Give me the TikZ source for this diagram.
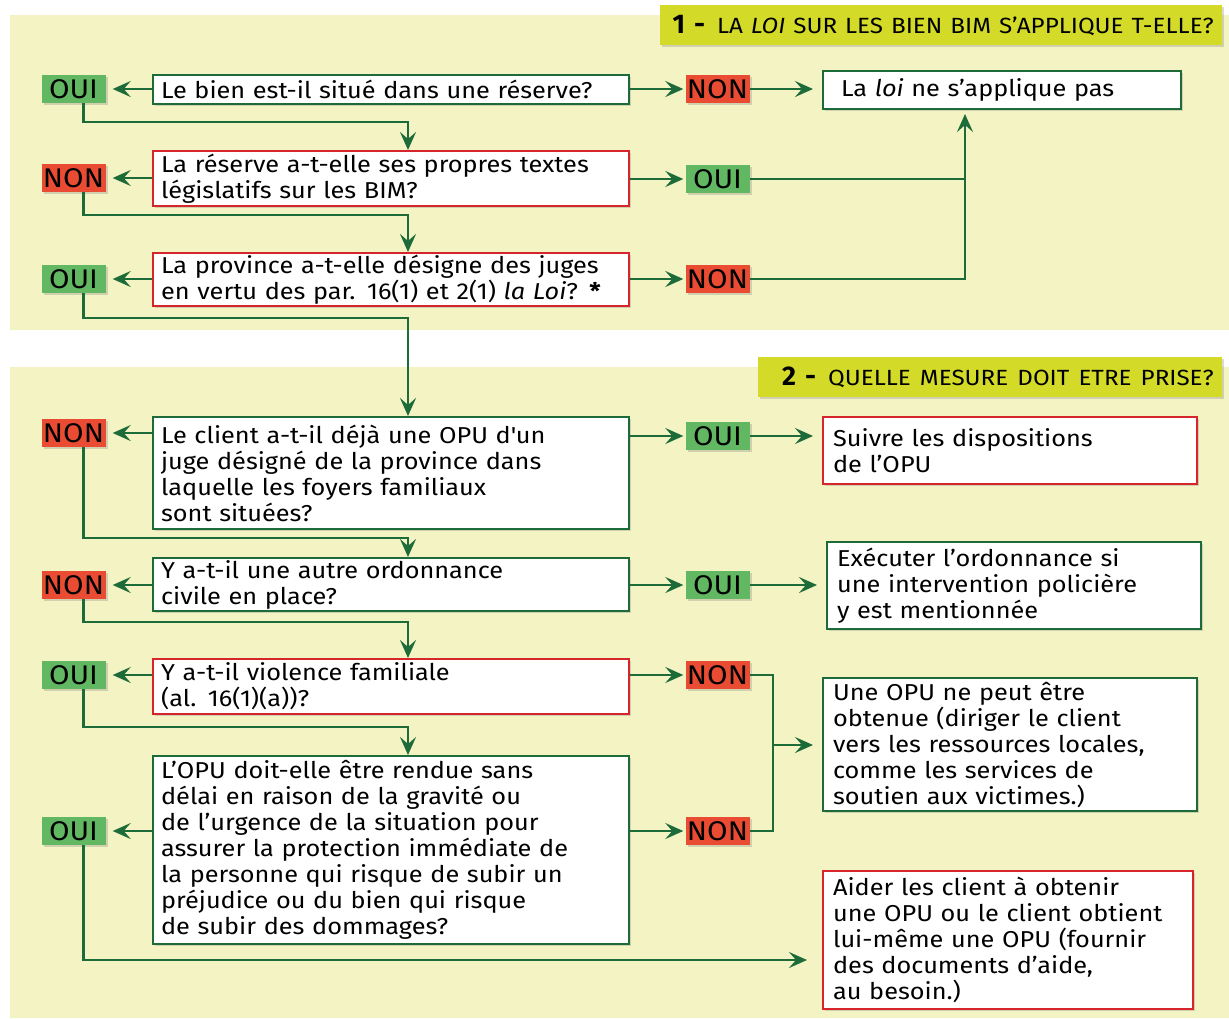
\documentclass[tikz,border=0pt]{standalone}
\usepackage{fontspec}
\setmainfont{Fira Sans}
\newfontfamily\qfam[FakeStretch=1.1]{Fira Sans}
\newfontfamily\tfam[FakeStretch=1.1]{Fira Sans}
\usetikzlibrary{arrows.meta,shadows,calc}
\definecolor{panel}{HTML}{F3F3C3}
\definecolor{titlebg}{HTML}{D3DB28}
\definecolor{gline}{HTML}{1D6B38}
\definecolor{rline}{HTML}{D7262B}
\definecolor{ouifill}{HTML}{62B862}
\definecolor{nonfill}{HTML}{E94B33}
\newcommand\qf{\qfam\fontsize{23}{26}\selectfont}
\newcommand\lf{\qfam\fontsize{27}{30}\selectfont}
\newcommand\tf{\tfam\fontsize{22}{26}\selectfont\spaceskip=7.5pt plus 2pt}
\begin{document}
\begin{tikzpicture}[x=1pt,y=-1pt,
  shad/.style={drop shadow={shadow xshift=2pt,shadow yshift=-2pt,opacity=0.3}},
  box/.style={fill=white,line width=2.2pt,align=left,inner xsep=8pt,inner ysep=1pt,
    anchor=north west,font=\qf,shad},
  qbox/.style={box,text width=460pt},
  lab/.style={minimum width=64pt,minimum height=28pt,inner sep=0pt,font=\lf,shad},
  oui/.style={lab,fill=ouifill},
  non/.style={lab,fill=nonfill},
  conn/.style={draw=gline,line width=2.2pt},
  arr/.style={conn,-{Stealth[length=18pt,width=16pt,inset=7pt]}},
  titlebar/.style={fill=titlebg,anchor=north east,minimum height=40pt,inner xsep=8pt,
    inner ysep=0pt,align=right,shad}
]
\useasboundingbox (0,0) rectangle (1229,1018);
% panels
\fill[panel] (10,15) rectangle (1229,330);
\fill[panel] (10,367) rectangle (1229,1018);
% titles
\node[titlebar,text width=546pt] (t1) at (1222,5)
  {{\fontsize{27}{30}\selectfont\bfseries 1\hspace{9pt}-}\hspace{12pt}{\tf LA \textit{LOI} SUR LES BIEN BIM S’APPLIQUE T-ELLE?}};
\node[titlebar,text width=448pt] (t2) at (1222,357)
  {{\fontsize{27}{30}\selectfont\bfseries 2\hspace{9pt}-}\hspace{12pt}{\tf QUELLE MESURE DOIT ETRE PRISE?}};

% questions
\node[qbox,draw=gline,minimum height=29pt] (q1) at (152,74) {Le bien est-il situé dans une réserve?};
\node[qbox,draw=rline,minimum height=55pt] (q2) at (152,150) {La réserve a-t-elle ses propres textes\\législatifs sur les BIM?};
\node[qbox,draw=rline,minimum height=53pt] (q3) at (152,252) {La province a-t-elle désigne des juges\\en vertu des par. 16(1) et 2(1) \textit{la Loi}? \textbf{*}};
\node[qbox,draw=gline,minimum height=112pt] (q4) at (152,416) {Le client a-t-il déjà une OPU d\textquotesingle un\\juge désigné de la province dans\\laquelle les foyers familiaux\\sont situées?};
\node[qbox,draw=gline,minimum height=53pt] (q5) at (152,557) {Y a-t-il une autre ordonnance\\civile en place?};
\node[qbox,draw=rline,minimum height=55pt] (q6) at (152,658) {Y a-t-il violence familiale\\(al. 16(1)(a))?};
\node[qbox,draw=gline,minimum height=188pt] (q7) at (152,755) {L’OPU doit-elle être rendue sans\\délai en raison de la gravité ou\\de l’urgence de la situation pour\\assurer la protection immédiate de\\la personne qui risque de subir un\\préjudice ou du bien qui risque\\de subir des dommages?};

% results
\node[box,draw=gline,inner xsep=18pt,text width=322pt,minimum height=38pt] (loi) at (822,70) {La \textit{loi} ne s’applique pas};
\node[box,draw=rline,inner xsep=10pt,text width=354pt,minimum height=67pt] (sui) at (822,416) {Suivre les dispositions\\de l’OPU};
\node[box,draw=gline,inner xsep=10pt,text width=354pt,minimum height=87pt] (exe) at (826,541) {Exécuter l’ordonnance si\\une intervention policière\\y est mentionnée};
\node[box,draw=gline,inner xsep=10pt,text width=354pt,minimum height=133pt] (opu) at (822,677) {Une OPU ne peut être\\obtenue (diriger le client\\vers les ressources locales,\\comme les services de\\soutien aux victimes.)};
\node[box,draw=rline,inner xsep=10pt,text width=350pt,minimum height=138pt] (aid) at (822,870) {Aider les client à obtenir\\une OPU ou le client obtient\\lui-même une OPU (fournir\\des documents d’aide,\\au besoin.)};

% labels
\node[oui] (o1) at (73.5,89) {OUI};
\node[non] (n1) at (717.5,89) {NON};
\node[non] (n2) at (73.5,178) {NON};
\node[oui] (o2) at (717.5,179) {OUI};
\node[oui] (o3) at (73.5,279) {OUI};
\node[non] (n3) at (717.5,279) {NON};
\node[non] (n4) at (73.5,433) {NON};
\node[oui] (o4) at (717.5,436) {OUI};
\node[non] (n5) at (73.5,585) {NON};
\node[oui] (o5) at (717.5,585) {OUI};
\node[oui] (o6) at (73.5,675) {OUI};
\node[non] (n6) at (717.5,675) {NON};
\node[oui] (o7) at (73.5,831) {OUI};
\node[non] (n7) at (717.5,831) {NON};

% junction coordinates
\coordinate (d1) at (408,122);
\coordinate (d2) at (408,215);
\coordinate (d3) at (408,318);
\coordinate (d4) at (408,538);
\coordinate (d5) at (408,622);
\coordinate (d6) at (408,727);
\coordinate (d7) at (83,960);
\coordinate (up) at (965,108);
\coordinate (mj) at (773,745);

% section 1
\draw[arr,shorten >=7pt] (q1.west |- o1) -- (o1.east);
\draw[arr,shorten >=2pt] (q1.east |- n1) -- (n1.west);
\draw[arr,shorten >=9pt] (n1.east) -- (n1.east -| loi.west);
\draw[arr] ([xshift=10pt]o1.south) |- (d1) -- (d1 |- q2.north);
\draw[arr,shorten >=7pt] (q2.west |- n2) -- (n2.east);
\draw[arr,shorten >=2pt] (q2.east |- o2) -- (o2.west);
\draw[conn] (o2.east) -| (up |- o2);
\draw[arr,shorten >=6pt] (n3.east) -| (up);
\draw[arr] ([xshift=10pt]n2.south) |- (d2) -- (d2 |- q3.north);
\draw[arr,shorten >=7pt] (q3.west |- o3) -- (o3.east);
\draw[arr,shorten >=2pt] (q3.east |- n3) -- (n3.west);
\draw[arr] ([xshift=10pt]o3.south) |- (d3) -- (d3 |- q4.north);

% section 2
\draw[arr,shorten >=7pt] (q4.west |- n4) -- (n4.east);
\draw[arr,shorten >=2pt] (q4.east |- o4) -- (o4.west);
\draw[arr,shorten >=9pt] (o4.east) -- (o4.east -| sui.west);
\draw[arr] ([xshift=10pt]n4.south) |- (d4) -- (d4 |- q5.north);
\draw[arr,shorten >=7pt] (q5.west |- n5) -- (n5.east);
\draw[arr,shorten >=2pt] (q5.east |- o5) -- (o5.west);
\draw[arr,shorten >=9pt] (o5.east) -- (o5.east -| exe.west);
\draw[arr] ([xshift=10pt]n5.south) |- (d5) -- (d5 |- q6.north);
\draw[arr,shorten >=7pt] (q6.west |- o6) -- (o6.east);
\draw[arr,shorten >=2pt] (q6.east |- n6) -- (n6.west);
\draw[conn] (n6.east) -| (mj |- n7) -- (n7.east);
\draw[arr,shorten >=9pt] (mj) -- (mj -| opu.west);
\draw[arr] ([xshift=10pt]o6.south) |- (d6) -- (d6 |- q7.north);
\draw[arr,shorten >=7pt] (q7.west |- o7) -- (o7.east);
\draw[arr,shorten >=2pt] (q7.east |- n7) -- (n7.west);
\draw[arr,shorten >=15pt] ([xshift=10pt]o7.south) |- (d7 -| aid.west);
\end{tikzpicture}
\end{document}
